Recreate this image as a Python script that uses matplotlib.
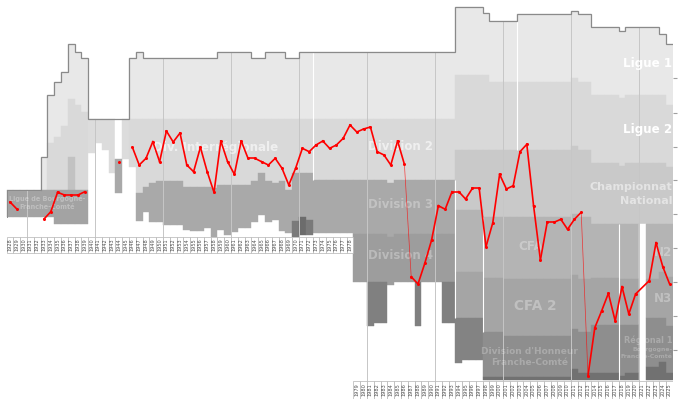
import numpy as np
import matplotlib
matplotlib.use("Agg")
import matplotlib.pyplot as plt

FIRST, LAST = 1928, 2025

# vertical scale: position in the French league pyramid (chart units, 0 = top)
# each list is (first season, value) run-length data, None = no such level
top_runs = [(1933, 157), (1934, 95), (1935, 81.7), (1936, 71.7), (1937, 44.3), (1938, 51.7),
            (1939, 58.3), (1940, 119), (1946, 58.3), (1947, 51.7), (1948, 58.3), (1959, 51.7),
            (1964, 58.3), (1966, 51.7), (1969, 58.3), (1971, 51.7), (1994, 6.7), (1998, 13.3),
            (1999, 20.7), (2003, 14), (2011, 10.7), (2012, 14), (2014, 27.3), (2018, 31),
            (2019, 27.3), (2024, 34), (2025, 44)]
b1_runs = [(1933, 190), (1934, 143), (1935, 137), (1936, 126), (1937, 99), (1938, 105),
           (1939, 112), (1940, 119), (1994, 75), (1999, 81.7), (2011, 78.3), (2012, 81.7),
           (2014, 95), (2018, 98.3), (2019, 95), (2025, 105)]
b2_runs = [(1934, 190), (1937, 157), (1938, 190), (1940, 153), (1941, 143), (1942, 150),
           (1943, 173), (1944, 159), (1945, 159), (1946, 166.7), (1947, 193.3), (1948, 186.7),
           (1949, 183.3), (1950, 180.7), (1954, 186.7), (1955, 187), (1958, 188), (1959, 185),
           (1964, 180.7), (1965, 173.3), (1966, 180.7), (1967, 182.7), (1968, 180.7),
           (1969, 190), (1970, 173.3), (1973, 180), (1984, 183), (1985, 180), (1994, 150),
           (2011, 146), (2012, 150), (2014, 162.7), (2018, 166), (2019, 162.7), (2025, 166.7)]
b3_runs = [(1937, 190), (1938, None), (1944, 193), (1945, None), (1947, 220.7), (1948, 211.7),
           (1949, 221.7), (1951, 225), (1954, 230), (1955, 230.7), (1957, 228), (1958, 236.7),
           (1959, 230), (1960, 235), (1961, 231.7), (1962, 228.3), (1964, 221.7), (1965, 215),
           (1966, 221.7), (1967, 220), (1968, 231), (1969, 233.3), (1970, 220.7), (1971, 216.7),
           (1972, 220), (1973, 233.3), (1979, 234), (1984, 237.3), (1985, 234), (1994, 210),
           (1998, 217.3), (2011, 214), (2012, 217.3), (2014, 224)]
b4_runs = [(1970, 236.7), (1971, 235), (1973, None), (1979, 282), (1984, 285), (1985, 282),
           (1994, 271.7), (1998, 278.3), (2001, 279), (2011, 275), (2012, 279), (2014, 278.3),
           (2018, 279), (2024, 272), (2025, 277)]
b5_runs = [(1981, 326), (1982, 323), (1984, None), (1988, 326), (1989, None), (1992, 323),
           (1994, 318), (1998, 331.7), (2001, 336), (2011, 329.3), (2012, 331.7), (2014, 325),
           (2022, 318.3), (2025, 326)]
b6_runs = [(1994, 363), (1995, 360), (1998, 377), (2011, 369.3), (2012, 373), (2014, 372.7),
           (2018, 376), (2019, 372.7), (2022, 366.7), (2024, 361.7), (2025, 372.7)]
b7_runs = [(1998, 380)]

t1_colours = [(1933, "#e8e8e8")]
t2_colours = [(1934, "#d9d9d9"), (1940, "#dcdcdc"), (1944, "white"), (1945, "#dcdcdc"), (1946, "#d9d9d9")]
t3_colours = [(1937, "#c2c2c2"), (1938, "#a9a9a9"), (1994, "#c9c9c9")]
t4_colours = [(1970, "#7a7a7a"), (1971, "#6c6c6c"), (1972, "#7a7a7a"), (1979, "#9d9d9d"),
              (1994, "#b4b4b4"), (2021, "white"), (2022, "#b4b4b4")]
t5_colours = [(1979, "#808080"), (1994, "#a5a5a5"), (2021, "white"), (2022, "#a5a5a5")]
t6_colours = [(1994, "#838383"), (1998, "#8e8e8e"), (2021, "white"), (2022, "#8e8e8e")]
t7_colours = [(1998, "#717171"), (2021, "white"), (2022, "#717171")]

# regional league before the war
regional_top = [(1928, 190), (1940, None)]
regional_bottom = [(1928, 217), (1935, 224), (1940, None)]

# club final position each season (None = not placed)
club_years = list(range(1928, 2026))
club_pos = [202, 209, None, None, None, 219, 211.7, 192.3, 195, 195, 195, 191.7,
            None, None, None, None, 162, None,
            147.3, 165, 158.3, 141.7, 161.7, 131, 142, 133, 165, 171.7, 147.3, 171.7, 192.3,
            141, 161.7, 174.3, 141, 158.3, 158.3, 161.7, 165, 158.3, 168.3, 185, 168.3,
            148.3, 151.7, 145, 141, 148.3, 145, 138.3, 125, 132, 129, 127, 151.7, 155, 165,
            141, 164.3, 276.7, 284, 263.3, 240, 205.7, 209.3, 191.7, 191.7, 199, 188.3,
            188.3, 246.7, 222.7, 174.3, 189, 185.7, 151.7, 144.3, 206, 260, 222.3, 222.3,
            219.3, 229.3, 219.3, 212.3, 375.7, 327.7, 311, 293.3, 321, 286.7, 314, 294,
            None, 280.7, 242.7, 266.7, 284]
broken_after = [1929, 1939, 1944]      # line not continued after these seasons
thin_after = [1986, 2012]              # administrative drops drawn thin

decade_years = [1931, 1941, 1951, 1961, 1971, 1981, 1991, 2001, 2011, 2021]
# reorganisation lines: (season, first boundary index, last boundary index)
white_lines = [(1973, 0, 2), (1994, 2, 5), (1998, 3, 5), (2003, 0, 2), (2018, 3, 7)]
right_ticks = [78.3, 112.7, 146.7, 180.3, 214.3, 248.3, 281.7, 315.7, 349.7]

upper_label_years = list(range(1928, 1979))
lower_label_years = list(range(1979, 2026))


def expand(runs):
    out = {}
    for i, (start, val) in enumerate(runs):
        end = runs[i + 1][0] if i + 1 < len(runs) else LAST + 1
        for y in range(start, end):
            out[y] = val
    return out


fig = plt.figure(figsize=(6.8, 3.99), dpi=100)
ax = fig.add_axes([0, 0, 673 / 680, 1])
ax.set_xlim(FIRST - 6.6 / 6.8, LAST + 1)
ax.set_ylim(399, 0)
for s in ax.spines.values():
    s.set_visible(False)
ax.set_xticks([])
ax.yaxis.tick_right()
ax.set_yticks(right_ticks)
ax.tick_params(axis="y", length=3, width=0.8, color="#a0a0a0", labelright=False)

bounds = [expand(r) for r in (top_runs, b1_runs, b2_runs, b3_runs, b4_runs, b5_runs, b6_runs, b7_runs)]
colours = [expand(c) for c in (t1_colours, t2_colours, t3_colours, t4_colours, t5_colours, t6_colours, t7_colours)]

def draw_band(tops, bots, cols):
    xs, hs, bs, cs = [], [], [], []
    for y in range(FIRST, LAST + 1):
        t, b = tops.get(y), bots.get(y)
        c = cols.get(y) if isinstance(cols, dict) else cols
        if t is None or b is None or c is None or b <= t:
            continue
        xs.append(y); bs.append(t); hs.append(b - t); cs.append(c)
    ax.bar(xs, hs, bottom=bs, width=1, align="edge", color=cs, edgecolor=cs, linewidth=0.3, zorder=1)

for i in range(7):
    draw_band(bounds[i], bounds[i + 1], colours[i])
reg_t, reg_b = expand(regional_top), expand(regional_bottom)
draw_band(reg_t, reg_b, "#a3a3a3")

# outline of the regional box
reg_years = [y for y in range(FIRST, LAST + 1) if reg_t.get(y) is not None]
ax.plot([reg_years[0], reg_years[0], min(top_runs)[0]],
        [reg_b[reg_years[0]], reg_t[reg_years[0]], reg_t[reg_years[0]]],
        color="#8a8a8a", lw=0.7, zorder=3)

# step outline of the top
top = bounds[0]
sx, sy = [top_runs[0][0]], [b1_runs[0][1]]
for y in range(top_runs[0][0], LAST + 1):
    sx += [y, y + 1]
    sy += [top[y], top[y]]
ax.plot(sx, sy, color="#8a8a8a", lw=0.9, zorder=3, solid_joinstyle="miter")

# decade lines and reorganisation lines
for d in decade_years:
    lower = 237 if d < 1979 else 380.5
    ax.vlines(d, top.get(d, reg_t.get(d)), lower, color="#c6c6c6", lw=0.7, zorder=2)
for d, i0, i1 in white_lines:
    y0 = bounds[i0].get(d - 1) if d == 1994 else bounds[i0][d]
    ax.vlines(d, y0, bounds[i1][d], color="white", lw=0.8, zorder=2)

# year label strips
def label_strip(years, y0, y1):
    ax.bar(years, y1 - y0, bottom=y0, width=1, align="edge", color="white",
           edgecolor="#b4b4b4", linewidth=0.5, zorder=2)
    for y in years:
        ax.text(y + 0.5, (y0 + y1) / 2, str(y), rotation=90, ha="center", va="center",
                fontsize=3.6, color="#505050", zorder=3)

label_strip(upper_label_years, 237, 253)
label_strip(lower_label_years, 381, 399)

# tier names
def tier_text(x, y, s, size, alpha, ha="center"):
    ax.text(x, y, s, fontsize=size, fontweight="bold", color=(1, 1, 1, alpha),
            ha=ha, va="center", zorder=4)

RX = 2025.9
tier_text(RX, 63, "Ligue 1", 8.6, 1.0, "right")
tier_text(RX, 130, "Ligue 2", 8.6, 1.0, "right")
tier_text(RX, 187, "Championnat", 8.0, 0.5, "right")
tier_text(RX, 201, "National", 8.0, 0.5, "right")
tier_text(2005.1, 247, "CFA", 8.6, 0.3)
tier_text(RX, 252, "N2", 8.6, 0.3, "right")
tier_text(RX, 299, "N3", 8.6, 0.3, "right")
tier_text(2005.8, 306, "CFA 2", 9.8, 0.3)
tier_text(2004.9, 351.7, "Division d'Honneur", 6.5, 0.25)
tier_text(2004.9, 362.7, "Franche-Comté", 6.5, 0.25)
tier_text(RX, 340.7, "Régional 1", 5.9, 0.25, "right")
tier_text(RX, 349.3, "Bourgogne-", 4.4, 0.25, "right")
tier_text(RX, 356.7, "Franche-Comté", 4.4, 0.25, "right")
tier_text(1986.0, 146.7, "Division 2", 8.5, 0.6)
tier_text(1986.0, 204.3, "Division 3", 8.5, 0.3)
tier_text(1986.0, 255.7, "Division 4", 8.5, 0.3)
tier_text(1958.7, 147, "Div. Interrégionale", 8.6, 0.6)
tier_text(1934.0, 199, "Ligue de Bourgogne-", 4.7, 0.3)
tier_text(1934.0, 206.7, "Franche-Comté", 4.7, 0.3)

# club position line
xs, ys = [], []
for y, p in zip(club_years, club_pos):
    if p is None:
        continue
    xs.append(y + 0.5); ys.append(p)
for (x0, y0), (x1, y1) in zip(zip(xs, ys), zip(xs[1:], ys[1:])):
    if int(x0) in broken_after:
        continue
    thin = int(x0) in thin_after
    ax.plot([x0, x1], [y0, y1], color="red", lw=0.5 if thin else 1.2,
            alpha=0.7 if thin else 1, zorder=5)
ax.plot(xs, ys, "o", color="red", ms=2.2, mew=0, zorder=6)

fig.savefig("out.png", dpi=100)
